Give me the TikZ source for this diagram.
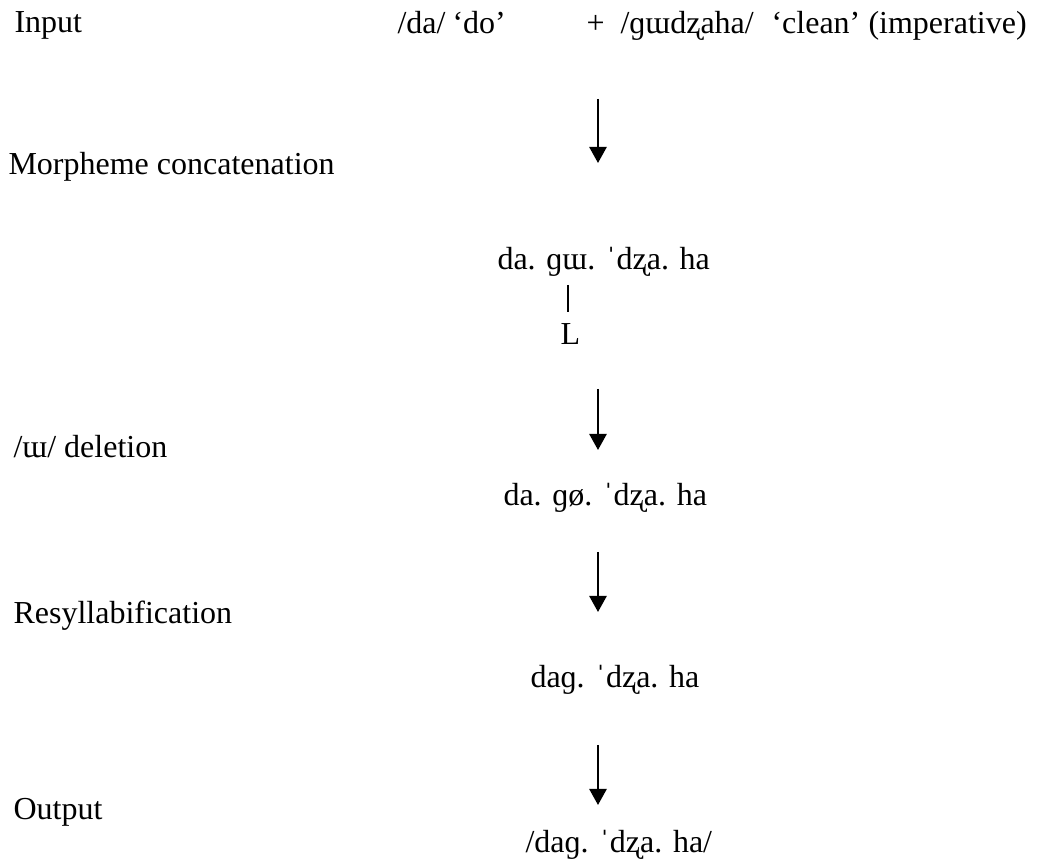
\documentclass[tikz,border=0pt]{standalone}
\usepackage{fontspec}
\setmainfont{Liberation Serif}
\usetikzlibrary{arrows.meta,positioning}
\tikzset{
  stage/.style={anchor=base west, inner sep=0pt, font=\fontsize{12}{14}\selectfont},
  form/.style={anchor=base west, inner sep=0pt, font=\fontsize{12}{14}\selectfont},
  derive/.style={-{Triangle[length=6pt,width=6.4pt]}, line width=0.9pt},
}
\begin{document}
\begin{tikzpicture}[x=0.375pt,y=-0.375pt]
    \useasboundingbox (0,0) rectangle (1047,865);
    % stage names
    \node[stage] (input) at (14,33) {Input};
    \node[stage] (concat) at (8,175) {Morpheme concatenation};
    \node[stage] (deletion) at (13,458) {/ɯ/ deletion};
    \node[stage] (resyll) at (13,624) {Resyllabification};
    \node[stage] (output) at (13,820) {Output};

    % input morphemes
    \node[form] (da) at (397,34) {/da/};
    \node[form] (dogloss) at (452,34) {‘do’};
    \node[form] (plus) at (586,34) {+};
    \node[form] (gw) at (620,34) {/ɡɯdʐaha/};
    \node[form] (cleangloss) at (771,34) {‘clean’};
    \node[form] (imp) at (868,34) {(imperative)};

    % derivation
    \node[form] (concatform) at (497,270) {da. ɡɯ. ˈdʐa. ha};
    \node[form] (tone) at (560,345) {L};
    \node[form] (delform) at (503,506) {da. ɡø. ˈdʐa. ha};
    \node[form] (resyllform) at (530,688) {daɡ. ˈdʐa. ha};
    \node[form] (outform) at (525,853) {/daɡ. ˈdʐa. ha/};

    \coordinate (link) at (568,285);
    \coordinate (linkend) at (568,312);
    \draw[line width=0.4pt] (link) -- (linkend);

    \coordinate (a1) at (598,99);   \coordinate (b1) at (598,163);
    \coordinate (a2) at (598,389);  \coordinate (b2) at (598,450);
    \coordinate (a3) at (598,552);  \coordinate (b3) at (598,612);
    \coordinate (a4) at (598,745);  \coordinate (b4) at (598,805);
    \draw[derive] (a1) -- (b1);
    \draw[derive] (a2) -- (b2);
    \draw[derive] (a3) -- (b3);
    \draw[derive] (a4) -- (b4);
\end{tikzpicture}
\end{document}
